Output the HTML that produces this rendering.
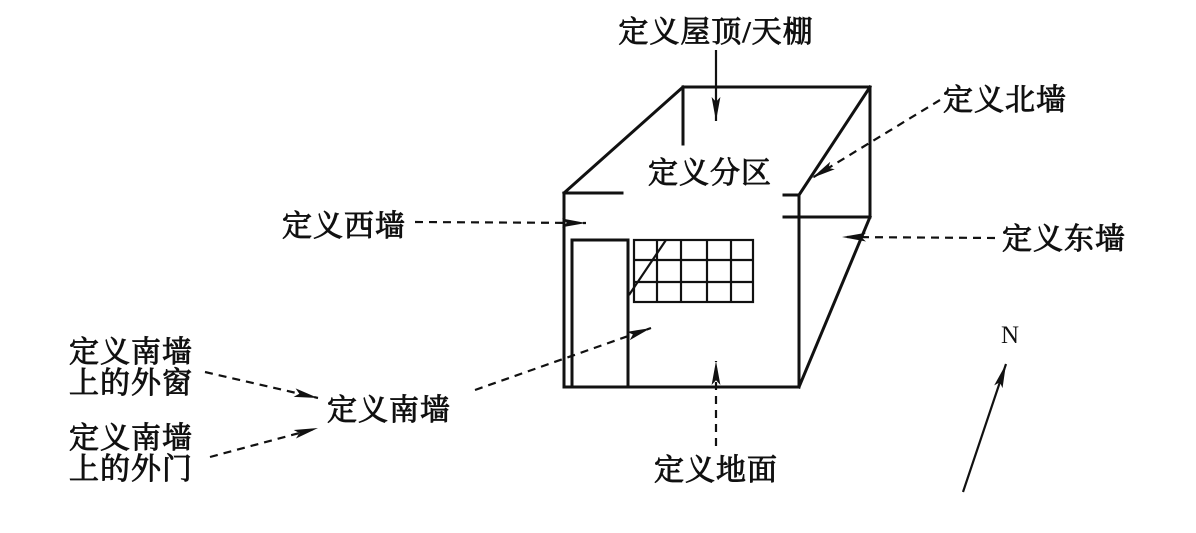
<!DOCTYPE html>
<html><head><meta charset="utf-8"><style>
html,body{margin:0;padding:0;background:#fff;}
svg text{font-family:"Liberation Serif","Noto Serif CJK SC","Noto Sans CJK SC",serif;font-size:30px;font-weight:normal;fill:#111;stroke:#111;stroke-width:0.9px;letter-spacing:1px;}
</style></head><body>
<svg width="1196" height="528" viewBox="0 0 1196 528" xmlns="http://www.w3.org/2000/svg">
<defs>
<marker id="b" viewBox="0 0 10 10" refX="10" refY="5" markerWidth="24" markerHeight="11" markerUnits="userSpaceOnUse" orient="auto" preserveAspectRatio="none"><path d="M0,1 L10,5 L0,9 L2,5 Z" fill="#111"/></marker>
</defs>
<g stroke="#111" stroke-width="3" fill="none" stroke-linecap="square">
<line x1="683" y1="87" x2="870" y2="87"/>
<line x1="564" y1="193" x2="683" y2="87"/>
<line x1="683" y1="87" x2="683" y2="144"/>
<line x1="564" y1="193" x2="564" y2="387"/>
<line x1="564" y1="193" x2="622" y2="193"/>
<line x1="784" y1="195" x2="799" y2="195"/>
<line x1="799" y1="195" x2="870" y2="87"/>
<line x1="799" y1="195" x2="799" y2="387"/>
<line x1="870" y1="87" x2="870" y2="217"/>
<line x1="784" y1="217" x2="870" y2="217"/>
<line x1="870" y1="217" x2="799" y2="387"/>
<line x1="564" y1="387" x2="799" y2="387"/>
<polyline points="572,387 572,240 628,240 628,387"/>
</g>
<g stroke="#111" stroke-width="2.2" fill="none">
<rect x="634" y="240" width="119" height="62"/>
<line x1="657" y1="240" x2="657" y2="302"/><line x1="681" y1="240" x2="681" y2="302"/>
<line x1="707" y1="240" x2="707" y2="302"/><line x1="731" y1="240" x2="731" y2="302"/>
<line x1="634" y1="260" x2="753" y2="260"/><line x1="634" y1="282" x2="753" y2="282"/>
<line x1="629" y1="295" x2="666" y2="240"/>
</g>
<g stroke="#111" stroke-width="2.2" fill="none">
<line x1="716" y1="50" x2="716" y2="121" marker-end="url(#b)"/>
<g stroke-dasharray="8,6">
<line x1="940" y1="100" x2="812" y2="178" marker-end="url(#b)"/>
<line x1="415" y1="222" x2="586" y2="223" marker-end="url(#b)"/>
<line x1="995" y1="238" x2="842" y2="237" marker-end="url(#b)"/>
<line x1="475" y1="390" x2="651" y2="328" marker-end="url(#b)"/>
<line x1="716" y1="446" x2="716" y2="361" marker-end="url(#b)"/>
<line x1="205" y1="372" x2="318" y2="398" marker-end="url(#b)"/>
<line x1="210" y1="457" x2="318" y2="428" marker-end="url(#b)"/>
</g>
<line x1="963" y1="492" x2="1006" y2="364" marker-end="url(#b)"/>
</g>
<text x="716" y="42" text-anchor="middle">定义屋顶/天棚</text>
<text x="710" y="183" text-anchor="middle">定义分区</text>
<text x="1005" y="110" text-anchor="middle">定义北墙</text>
<text x="344" y="236" text-anchor="middle">定义西墙</text>
<text x="1064" y="249" text-anchor="middle">定义东墙</text>
<text x="131" y="362" text-anchor="middle">定义南墙</text>
<text x="131" y="393" text-anchor="middle">上的外窗</text>
<text x="131" y="448" text-anchor="middle">定义南墙</text>
<text x="131" y="479" text-anchor="middle">上的外门</text>
<text x="389" y="420" text-anchor="middle">定义南墙</text>
<text x="716" y="480" text-anchor="middle">定义地面</text>
<text x="1010" y="343" text-anchor="middle" style="font-size:25px;stroke-width:0;letter-spacing:0">N</text>
</svg>
</body></html>
